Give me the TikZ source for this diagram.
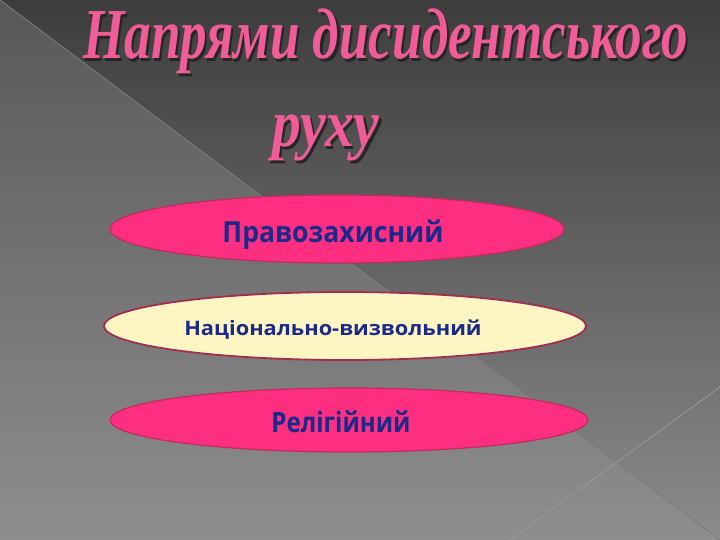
\documentclass[tikz,border=0pt]{standalone}
\usepackage{fontspec}
\usetikzlibrary{shapes.geometric}
\newfontfamily\titlefont{Liberation Serif}
\newfontfamily\lblfont{Open Sans}
\definecolor{bgtop}{HTML}{3D3D3D}
\definecolor{bgbot}{HTML}{8B8B8B}
\definecolor{lltop}{HTML}{585858}
\definecolor{llbot}{HTML}{8E8E8E}
\definecolor{titlepink}{RGB}{240,92,150}
\definecolor{titleshadow}{HTML}{262626}
\definecolor{ellpink}{HTML}{FE2F80}
\definecolor{ellpinkline}{HTML}{C42A5C}
\definecolor{ellyellow}{HTML}{FEF6C2}
\definecolor{ellyellowline}{HTML}{A32C52}
\definecolor{navy}{HTML}{1B2A8A}
\tikzset{
  pinkell/.style={ellipse, draw=ellpinkline, fill=ellpink, line width=1.2pt, inner sep=0pt},
  yellowell/.style={ellipse, draw=ellyellowline, fill=ellyellow, line width=1.8pt, inner sep=0pt},
  lbl/.style={anchor=base, text=navy, inner sep=0pt},
  ttl/.style={anchor=base west, inner sep=0pt, font=\titlefont\itshape\bfseries\fontsize{64}{64}\selectfont},
  bgline/.style={line width=0.8pt}
}
% text with a dark drop shadow, set as one piece of text
\newcommand{\shadowtext}[1]{\makebox[0pt][l]{\hspace{2.5pt}\raisebox{-2.5pt}{\textcolor{titleshadow}{#1}}}\textcolor{titlepink}{#1}}
\begin{document}
\begin{tikzpicture}[x=1pt,y=-1pt]
\useasboundingbox (0,0) rectangle (720,540);
% background
\fill[top color=bgtop, bottom color=bgbot] (0,0) rectangle (720,540);
\fill[top color=lltop, bottom color=llbot] (0,0) -- (720,540) -- (0,540) -- cycle;
\coordinate (d1) at (0,0);
\coordinate (d2) at (720,540);
\coordinate (b1) at (720,387);
\coordinate (b2) at (510,540);
\draw[bgline, color=black!50] (d1) -- (d2);
\draw[bgline, color=black!40] (b1) -- (b2);
% title
\node[ttl] (t1) at (83,59) {\scalebox{0.83}[1.12]{\shadowtext{Напрями дисидентського}}};
\node[ttl] (t2) at (272,147) {\scalebox{0.9}[1.05]{\shadowtext{руху}}};
% ellipses
\node[pinkell, minimum width=454pt, minimum height=68pt] (e1) at (337,229) {};
\node[yellowell, minimum width=482pt, minimum height=68pt] (e2) at (345,326) {};
\node[pinkell, minimum width=478pt, minimum height=64pt] (e3) at (349,420) {};
\node[lbl, font=\lblfont\bfseries\fontsize{29}{29}\selectfont] (l1) at (333,242) {\scalebox{0.917}[1]{Правозахисний}};
\node[lbl, font=\lblfont\bfseries\fontsize{20}{20}\selectfont] (l2) at (333,335) {\scalebox{1.09}[1]{Національно-визвольний}};
\node[lbl, font=\lblfont\bfseries\fontsize{28}{28}\selectfont] (l3) at (341,432) {\scalebox{0.86}[1]{Релігійний}};
\end{tikzpicture}
\end{document}
